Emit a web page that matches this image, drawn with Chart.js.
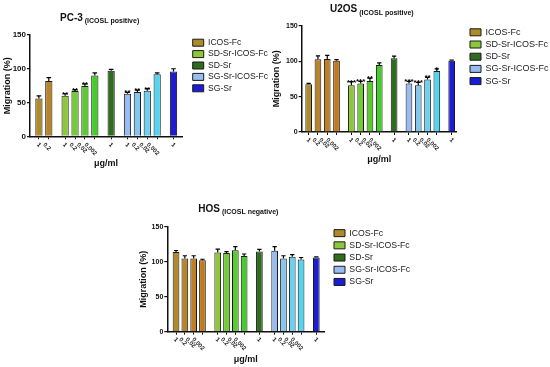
<!DOCTYPE html>
<html><head><meta charset="utf-8">
<script src="https://cdn.jsdelivr.net/npm/chart.js@4.4.1/dist/chart.umd.min.js"></script>
<style>
html,body{margin:0;padding:0;background:#fff;}
body{width:550px;height:367px;position:relative;overflow:hidden;}
.panel{position:absolute;}
</style></head><body>
<div class="panel" style="left:0;top:0;width:278px;height:180px"><canvas id="pc3"></canvas></div>
<div class="panel" style="left:270px;top:0;width:280px;height:180px"><canvas id="u2os"></canvas></div>
<div class="panel" style="left:135px;top:190px;width:300px;height:177px"><canvas id="hos"></canvas></div>
<script>
// ---------- data ----------
const seriesNames = ["ICOS-Fc","SD-Sr-ICOS-Fc","SD-Sr","SG-Sr-ICOS-Fc","SG-Sr"];

const pc3Doses  = [["1","0.2"],["1","0.2","0.02","0.002"],["1"],["1","0.2","0.02","0.002"],["1"]];
const pc3Values = [[56,82],[60,67,74.5,90],[97],[63,65.5,67.5,92],[96]];
const pc3Errors = [[4,5],[3,2,3,4],[2],[2,3,3,2],[4]];
const pc3Stars  = [["",""],["**","**","**",""],[""],["**","**","**",""],[""]];

const u2osDoses  = [["1","0.2","0.02","0.002"],["1","0.2","0.02","0.002"],["1"],["1","0.2","0.02","0.002"],["1"]];
const u2osValues = [[67.5,102.5,103,100.5],[66,68.5,72,94.5],[104],[68.5,66,74,86],[100.5]];
const u2osErrors = [[1,5,5,1.5],[5,3,4,3],[3],[3,4,3,3],[1]];
const u2osStars  = [["","","",""],["***","***","**",""],[""],["***","***","**","*"],[""]];

const hosDoses  = [["1","0.2","0.02","0.002"],["1","0.2","0.02","0.002"],["1"],["1","0.2","0.02","0.002"],["1"]];
const hosValues = [[114,104.5,104.5,102],[113,112.5,116.5,108],[114.5],[115.5,104.5,107,103],[106]];
const hosErrors = [[2,4,4,1.5],[5,2,5,3],[3],[6,4,3,3],[1]];
const hosStars  = [["","","",""],["","","",""],[""],["","","",""],[""]];

// ---------- styles ----------
const FONT = '"Liberation Sans", Arial, sans-serif';
Chart.defaults.font.family = FONT;
const legendColors = ["#a8862a","#94c83a","#2f6c1e","#90bff0","#1c1cd6"];
const shades = [
  ["#ae8a2a","#b8842a","#bf7e24","#c4781e"],
  ["#8cc83a","#72cc34","#5acc2e","#44cc2a"],
  ["#2f6c1e"],
  ["#98bcf0","#84c6f0","#6cd0f0","#52d6f0"],
  ["#1c1cd6"]
];
const LEGEND_SLOT = 10;

// ---------- plugins ----------
const legendShift = {
  id: 'legendShift',
  beforeLayout(chart) {
    const lg = chart.legend;
    if (lg && !lg._fixedFit) {
      const orig = lg.fit.bind(lg);
      lg.fit = function() { orig(); this.width = LEGEND_SLOT; };
      lg._fixedFit = true;
    }
  },
  afterLayout(chart, args, o) {
    const lg = chart.legend; if (!lg) return;
    const p = lg.options.labels.padding;
    const h = lg.height;
    lg.left = o.x - p; lg.right = lg.left + 200;
    lg.width = 200;
    lg.top = o.y - p; lg.bottom = lg.top + h;
  }
};
const richTitle = {
  id: 'richTitle',
  afterDraw(chart, args, o) {
    const ctx = chart.ctx; ctx.save();
    ctx.fillStyle = '#111'; ctx.textBaseline = 'alphabetic'; ctx.textAlign = 'left';
    ctx.font = 'bold ' + o.mainSize + 'px ' + FONT;
    ctx.fillText(o.main, o.x, o.y);
    const w = ctx.measureText(o.main).width;
    ctx.font = 'bold ' + o.subSize + 'px ' + FONT;
    ctx.fillText(o.sub, o.x + w + 2, o.y + o.subDy);
    ctx.restore();
  }
};
const annot = {
  id: 'annot',
  afterDatasetsDraw(chart, args, o) {
    const ctx = chart.ctx, ys = chart.scales.y, xs = chart.scales.x;
    ctx.save();
    chart.data.datasets.forEach((ds, di) => {
      const meta = chart.getDatasetMeta(di);
      meta.data.forEach((bar, i) => {
        const v = ds.data[i].y, e = ds.errors[i];
        const yTop = ys.getPixelForValue(v + e);
        const half = bar.width * 0.32;
        ctx.strokeStyle = '#000'; ctx.lineWidth = 1.2;
        ctx.beginPath();
        ctx.moveTo(bar.x, bar.y); ctx.lineTo(bar.x, yTop);
        ctx.moveTo(bar.x - half, yTop); ctx.lineTo(bar.x + half, yTop);
        ctx.stroke();
        if (ds.stars[i]) {
          ctx.font = 'bold 8px ' + FONT; ctx.textAlign = 'center'; ctx.textBaseline = 'alphabetic';
          ctx.fillStyle = '#000';
          ctx.fillText(ds.stars[i], bar.x, yTop + 3);
        }
        // rotated dose label
        ctx.font = 'bold 6px ' + FONT; ctx.textAlign = 'left'; ctx.textBaseline = 'middle';
        ctx.fillStyle = '#222';
        const lab = ds.doses[i];
        const w = ctx.measureText(lab).width;
        ctx.save();
        ctx.translate(bar.x + 1 - 0.707 * w, xs.top + o.labelDy);
        ctx.rotate(Math.PI / 4);
        ctx.fillText(lab, 0, 0);
        ctx.restore();
      });
    });
    ctx.restore();
  }
};

// ---------- builder ----------
function buildChart(id, spec) {
  let k = 0;
  const positions = spec.doses.map((grp, g) => grp.map(() => (k++) + g * spec.gap));
  const allPos = positions.flat();
  const datasets = seriesNames.map((name, g) => ({
    label: name,
    data: spec.values[g].map((v, i) => ({x: positions[g][i], y: v})),
    errors: spec.errors[g],
    stars: spec.stars[g],
    doses: spec.doses[g],
    backgroundColor: c => c.type === 'data' ? shades[g][c.dataIndex % shades[g].length] : legendColors[g],
    borderColor: '#1a1a1a', borderWidth: 1, borderSkipped: 'start',
    grouped: false, categoryPercentage: 1, barPercentage: spec.barPct
  }));
  const canvasEl = document.getElementById(id);
  const canvasW = canvasEl.parentElement.clientWidth;
  const padRight = canvasW - spec.chartRight - LEGEND_SLOT;
  return new Chart(canvasEl, {
    type: 'bar',
    data: {datasets},
    plugins: [legendShift, richTitle, annot],
    options: {
      responsive: true, maintainAspectRatio: false, animation: false, events: [],
      layout: {padding: {top: spec.padTop, right: padRight, left: 0, bottom: 0}},
      scales: {
        x: {
          type: 'linear', offset: false,
          min: allPos[0] - spec.padL, max: allPos[allPos.length - 1] + spec.padR,
          afterBuildTicks: ax => { ax.ticks = allPos.map(v => ({value: v})); },
          ticks: {display: false},
          grid: {display: true, offset: false, drawOnChartArea: false, drawTicks: true, tickLength: 3, color: '#111', lineWidth: 1},
          border: {display: true, color: '#111', width: 1.5},
          title: {display: true, text: 'μg/ml', color: '#111', font: {size: 9, weight: 'bold'}, padding: {top: 0, bottom: spec.xTitlePad}},
          afterFit: ax => { ax.height = spec.xAxisH; }
        },
        y: {
          min: 0, max: 150,
          ticks: {stepSize: 50, color: '#111', padding: 1, font: {size: spec.yTickSize, weight: 'bold'}},
          grid: {drawOnChartArea: false, drawTicks: true, tickLength: 3, color: '#111', lineWidth: 1.2},
          border: {display: true, color: '#111', width: 1.5},
          title: {display: true, text: 'Migration (%)', color: '#111', font: {size: 9, weight: 'bold'}, padding: {top: spec.yTitlePad, bottom: 0}},
          afterFit: ax => { ax.width = spec.yAxisW; }
        }
      },
      plugins: {
        tooltip: {enabled: false},
        title: {display: false},
        legend: {
          display: true, position: 'right', align: 'start',
          labels: {boxWidth: 11, boxHeight: 7, padding: spec.legPad, color: '#222', font: {size: spec.legFont}}
        },
        legendShift: {x: spec.legX, y: spec.legY},
        richTitle: {main: spec.title, sub: spec.sub, x: spec.titleX, y: spec.titleY, mainSize: 10, subSize: 7, subDy: 2.5},
        annot: {labelDy: spec.labelDy}
      }
    }
  });
}

buildChart('pc3', {
  doses: pc3Doses, values: pc3Values, errors: pc3Errors, stars: pc3Stars,
  gap: 0.65, padL: 0.9, padR: 0.86, barPct: 0.73,
  padTop: 35, chartRight: 182, yAxisW: 30, xAxisH: 43.7, xTitlePad: 11.3, yTitlePad: 2.1, yTickSize: 8,
  legX: 192.7, legY: 38.4, legPad: 2.8, legFont: 8.6,
  title: 'PC-3', sub: '(ICOSL positive)', titleX: 60, titleY: 20.5, labelDy: 7.5
});
buildChart('u2os', {
  doses: u2osDoses, values: u2osValues, errors: u2osErrors, stars: u2osStars,
  gap: 0.6, padL: 0.75, padR: 0.54, barPct: 0.72,
  padTop: 25.7, chartRight: 186.7, yAxisW: 31.7, xAxisH: 48, xTitlePad: 14.6, yTitlePad: 1.6, yTickSize: 7,
  legX: 200, legY: 27.8, legPad: 3.2, legFont: 9,
  title: 'U2OS', sub: '(ICOSL positive)', titleX: 60, titleY: 12.3, labelDy: 7
});
buildChart('hos', {
  doses: hosDoses, values: hosValues, errors: hosErrors, stars: hosStars,
  gap: 0.73, padL: 0.99, padR: 0.87, barPct: 0.76,
  padTop: 36.7, chartRight: 189, yAxisW: 32.3, xAxisH: 35.3, xTitlePad: 1.6, yTitlePad: 3.1, yTickSize: 7,
  legX: 199, legY: 38.8, legPad: 3.5, legFont: 8.7,
  title: 'HOS', sub: '(ICOSL negative)', titleX: 63.3, titleY: 21.7, labelDy: 7
});
</script>
</body></html>
